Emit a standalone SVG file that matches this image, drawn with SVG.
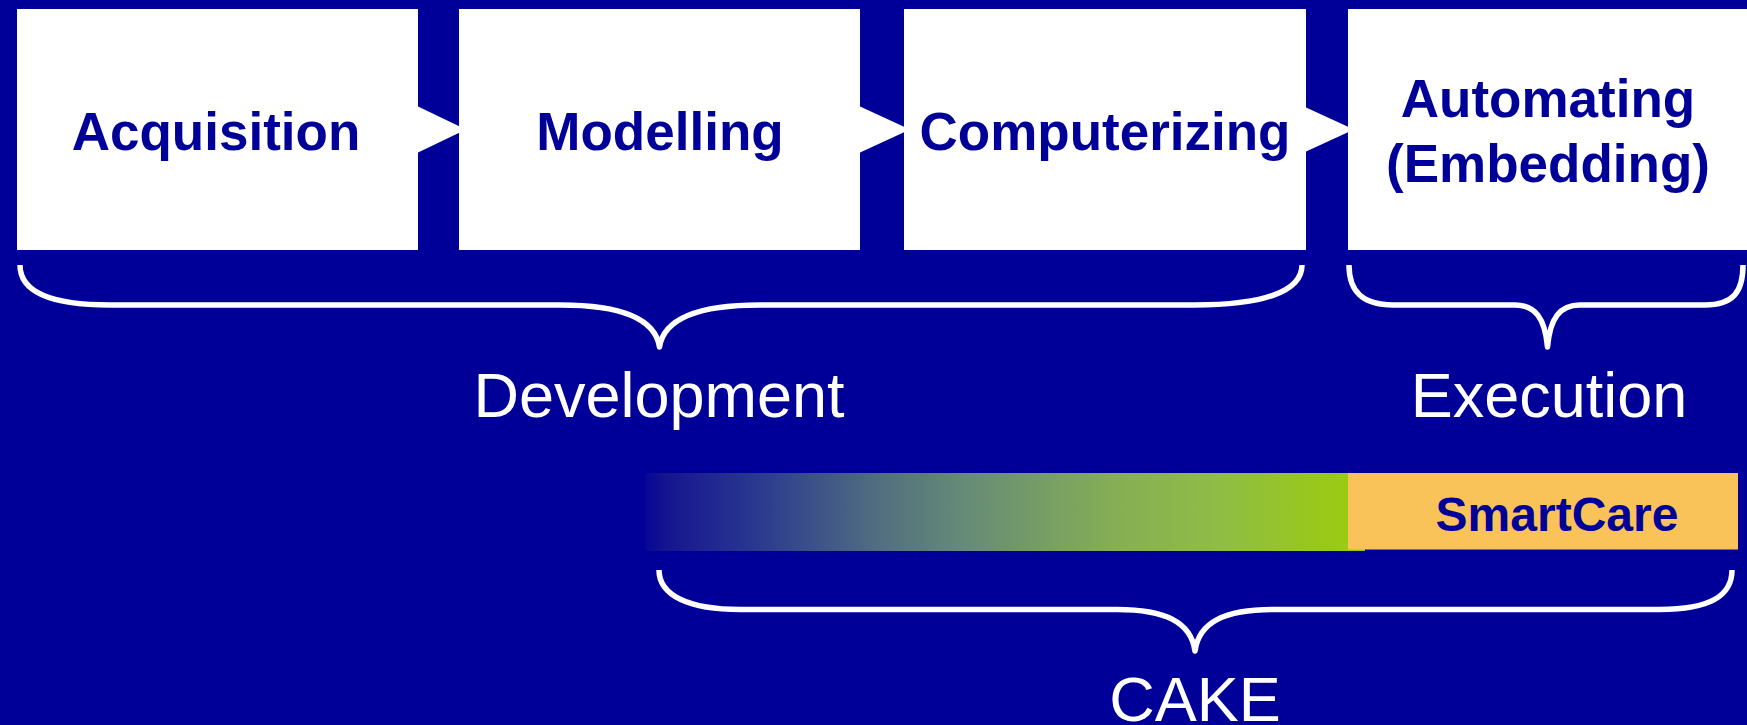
<svg xmlns="http://www.w3.org/2000/svg" width="1747" height="725" viewBox="0 0 1747 725">
<style>
.box{fill:#ffffff}
.step{font-family:"Liberation Sans",Arial,sans-serif;font-weight:bold;font-size:53px;fill:#000099;text-anchor:middle}
.lbl{font-family:"Liberation Sans",Arial,sans-serif;font-size:63px;fill:#ffffff;text-anchor:middle}
.brace{fill:none;stroke:#ffffff;stroke-width:5.5;stroke-linejoin:round;stroke-linecap:butt}
.tri{fill:#ffffff}
</style>
<defs>
<linearGradient id="grad" x1="645" y1="0" x2="1365" y2="0" gradientUnits="userSpaceOnUse">
<stop offset="0" stop-color="#060696"/>
<stop offset="0.03" stop-color="#151590"/>
<stop offset="0.16" stop-color="#2b3a90"/>
<stop offset="0.33" stop-color="#52707f"/>
<stop offset="0.44" stop-color="#658a78"/>
<stop offset="0.65" stop-color="#85ae55"/>
<stop offset="0.8" stop-color="#8fbd45"/>
<stop offset="0.94" stop-color="#99c81a"/>
<stop offset="1" stop-color="#9acc10"/>
</linearGradient>
</defs>
<rect x="0" y="0" width="1747" height="725" fill="#000099"/>

<g id="connectors">
<polygon class="tri" points="417,106 466,129.5 417,153"/>
<polygon class="tri" points="859,106 910,129.5 859,153"/>
<polygon class="tri" points="1305,107 1354,129.5 1305,152"/>
</g>

<g id="node-acquisition">
<rect class="box" x="17" y="9" width="401" height="241"/>
<text class="step" x="216" y="150">Acquisition</text>
</g>
<g id="node-modelling">
<rect class="box" x="459" y="9" width="401" height="241"/>
<text class="step" x="660" y="150">Modelling</text>
</g>
<g id="node-computerizing">
<rect class="box" x="904" y="9" width="402" height="241"/>
<text class="step" x="1105" y="150">Computerizing</text>
</g>
<g id="node-automating">
<rect class="box" x="1348" y="9" width="399" height="241"/>
<text class="step" x="1548" y="117">Automating</text>
<text class="step" x="1548" y="182">(Embedding)</text>
</g>

<g id="brace-development">
<path class="brace" d="M20,265 C20,292 52,305 110,305 L560,305 C620,305 655,318 659.5,347 C664,318 699,305 760,305 L1195,305 C1262,305 1302,292 1302,265"/>
<text class="lbl" x="659" y="417">Development</text>
</g>
<g id="brace-execution">
<path class="brace" d="M1349,265 C1349,292 1363,305 1393,305 L1515,305 C1535,305 1545,318 1547.5,347 C1550,318 1560,305 1580,305 L1705,305 C1733,305 1743,292 1743,265"/>
<text class="lbl" x="1549" y="417">Execution</text>
</g>

<g id="bar">
<rect x="645" y="473" width="720" height="78" fill="url(#grad)"/>
</g>
<g id="node-smartcare">
<rect x="1348" y="473" width="390" height="76.5" fill="#f9c35a"/>
<text class="step" x="1557" y="531" style="font-size:48px">SmartCare</text>
</g>

<g id="brace-cake">
<path class="brace" d="M659,570 C659,596 690,609.5 740,609.5 L1117,609.5 C1165,609.5 1191,622 1195,651 C1199,622 1225,609.5 1273,609.5 L1660,609.5 C1710,609.5 1732,596 1732,570"/>
<text class="lbl" x="1195" y="721">CAKE</text>
</g>
</svg>
